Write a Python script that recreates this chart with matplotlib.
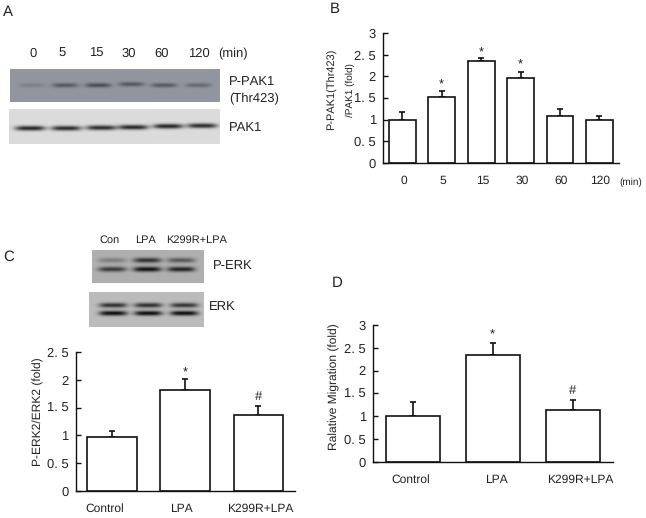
import numpy as np
import matplotlib
matplotlib.use("Agg")
import matplotlib.pyplot as plt

W, H = 646, 518
plt.rcParams['font.family'] = ['Liberation Sans', 'DejaVu Sans']
plt.rcParams['text.hinting'] = 'no_hinting'
plt.rcParams['text.hinting_factor'] = 1
TXT = '#222222'

# --- Panel B
b_labels = ['0', '5', '15', '30', '60', '120']
b_values = [1.0, 1.52, 2.35, 1.97, 1.09, 1.0]
b_errors = [0.18, 0.135, 0.08, 0.14, 0.16, 0.08]
b_marks = [None, '*', '*', '*', None, None]
b_mark_y = [None, 1.80, 2.55, 2.27, None, None]
b_yticks = [0, 0.5, 1, 1.5, 2, 2.5, 3]
b_yticklabels = ['0', '0. 5', '1', '1. 5', '2', '2. 5', '3']

# --- Panel C
c_labels = ['Control', 'LPA', 'K299R+LPA']
c_values = [0.965, 1.82, 1.37]
c_errors = [0.12, 0.20, 0.16]
c_marks = [None, '*', '#']
c_mark_y = [None, 2.12, 1.70]
c_yticks = [0, 0.5, 1, 1.5, 2, 2.5]
c_yticklabels = ['0', '0. 5', '1', '1. 5', '2', '2. 5']

# --- Panel D
d_labels = ['Control', 'LPA', 'K299R+LPA']
d_values = [1.0, 2.34, 1.134]
d_errors = [0.32, 0.27, 0.22]
d_marks = [None, '*', '#']
d_mark_y = [None, 2.78, 1.56]
d_yticks = b_yticks
d_yticklabels = b_yticklabels

# --- Blots: lane centre x, band centre y, strength
a1_x = [32, 65, 98, 131, 164, 198]
a1_y = [85, 85, 85, 84, 85, 85]
a1_s = [0.22, 0.62, 0.72, 0.62, 0.6, 0.45]
a2_x = [30, 66, 101, 133, 168, 202]
a2_y = [128, 128, 127.5, 127, 126, 125.5]
a2_s = [0.95, 0.92, 0.92, 0.95, 0.95, 0.92]
c1_x = [112, 147, 181]
c1u_y = [260, 260, 260]
c1u_s = [0.32, 0.8, 0.55]
c1l_y = [269, 269, 269]
c1l_s = [0.75, 1.0, 0.9]
c2_x = [113, 148, 184]
c2u_y = [305, 305, 305]
c2u_s = [0.8, 0.8, 0.78]
c2l_y = [313, 313, 313]
c2l_s = [1.0, 1.0, 1.0]

fig = plt.figure(figsize=(W / 100, H / 100), dpi=100, facecolor='white')


def px_axes(l, t, r, b):
    return fig.add_axes([l / W, 1 - b / H, (r - l) / W, (b - t) / H])


def ftext(x, y, s, size=9, ha='left', **kw):
    fig.text(x / W, 1 - y / H, s, fontsize=size, ha=ha, va='center', color=TXT, **kw)


def bar_panel(box, labels, values, errors, marks, mark_y, yticks, yticklabels, ymax, label_shift):
    ax = px_axes(*box)
    x = np.arange(len(values))
    ax.bar(x, values, width=0.68, facecolor='white', edgecolor='#111111', linewidth=1.2, zorder=2)
    ax.errorbar(x, values, yerr=[np.zeros(len(values)), errors], fmt='none', ecolor='#111111',
                elinewidth=1.2, capsize=2.2, capthick=1.2, zorder=1)
    for xi, m, my in zip(x, marks, mark_y):
        if m:
            ax.text(xi, my, m, ha='center', va='center', fontsize=9, color=TXT)
    ax.set_xlim(-0.5, len(values) - 0.5)
    ax.set_ylim(0, ymax)
    for s in ('top', 'right'):
        ax.spines[s].set_visible(False)
    for s in ('left', 'bottom'):
        ax.spines[s].set_linewidth(1.0)
        ax.spines[s].set_color('#111111')
    ax.patch.set_alpha(0)
    ax.set_yticks(yticks)
    ax.set_yticklabels(yticklabels)
    ax.tick_params(axis='y', direction='in', length=3.5, width=1.0, pad=5, labelsize=9, labelcolor=TXT, color='#111111')
    ax.set_xticks(x + np.array(label_shift))
    ax.set_xticklabels(labels)
    ax.tick_params(axis='x', length=0, pad=9, labelsize=8.5, labelcolor=TXT)
    return ax


def blot(box, bg, dark, bands, hw, hy):
    l, t, r, b = box
    ax = px_axes(l, t, r, b)
    xs = np.arange(l, r, 0.5)
    ys = np.arange(t, b, 0.5)
    X, Y = np.meshgrid(xs, ys)
    cover = np.zeros_like(X)
    for xc, yc, st in bands:
        cover += st * np.exp(-((X - xc) / hw) ** 4) * np.exp(-((Y - yc) / hy) ** 2)
    cover = np.clip(cover, 0, 1)[..., None]
    img = np.array(matplotlib.colors.to_rgb(bg)) * (1 - cover) + np.array(matplotlib.colors.to_rgb(dark)) * cover
    ax.imshow(img, extent=(l, r, b, t), aspect='auto', interpolation='bilinear')
    ax.axis('off')
    return ax


# Panel letters
ftext(3, 12, 'A', size=10.5)
ftext(330, 9, 'B', size=10.5)
ftext(3, 257, 'C', size=10.5)
ftext(332, 283, 'D', size=10.5)

# Panel A
for xp, s in zip([33, 62, 96, 129, 162, 199], b_labels):
    ftext(xp, 54, s, ha='center')
ftext(233, 54, '(min)', ha='center')
blot((10, 69, 220, 102), '#92979f', '#28333c', list(zip(a1_x, a1_y, a1_s)), 13, 2.2)
blot((9, 109, 220, 144), '#dcdcdc', '#1c1c1c', list(zip(a2_x, a2_y, a2_s)), 15, 2.4)
ftext(229, 82, 'P-PAK1', size=9.2)
ftext(229, 99, '(Thr423)', size=9.2)
ftext(229, 128, 'PAK1', size=9.2)

# Panel B
bar_panel((382.7, 33.3, 619, 162.7), b_labels, b_values, b_errors, b_marks, b_mark_y,
          b_yticks, b_yticklabels, 3, [0.03] * 6)
ftext(631, 182, '(min)', size=7.5, ha='center')
fig.text(332 / W, 1 - 89 / H, 'P-PAK1(Thr423)', rotation=90, fontsize=7.6, ha='center', va='center', color=TXT)
fig.text(350 / W, 1 - 90 / H, '/PAK1 (fold)', rotation=90, fontsize=7.4, ha='center', va='center', color=TXT)

# Panel C
ftext(110, 240, 'Con', size=7.9, ha='center')
ftext(146, 240, 'LPA', size=7.9, ha='center')
ftext(197, 240, 'K299R+LPA', size=7.9, ha='center')
blot((92, 250, 204, 283), '#b0b0b0', '#111111',
     list(zip(c1_x, c1u_y, c1u_s)) + list(zip(c1_x, c1l_y, c1l_s)), 14, 2.5)
blot((89, 292, 204, 327), '#bcbcbc', '#0c0c0c',
     list(zip(c2_x, c2u_y, c2u_s)) + list(zip(c2_x, c2l_y, c2l_s)), 14, 2.4)
ftext(213, 266, 'P-ERK', size=9.4)
ftext(209, 307, 'ERK', size=9.4)
bar_panel((75.5, 352, 295, 491), c_labels, c_values, c_errors, c_marks, c_mark_y,
          c_yticks, c_yticklabels, 2.5, [-0.1, -0.06, 0.02])
fig.text(38 / W, 1 - 412 / H, 'P-ERK2/ERK2 (fold)', rotation=90, fontsize=8.4, ha='center', va='center', color=TXT)

# Panel D
bar_panel((372.7, 325, 612.7, 461.7), d_labels, d_values, d_errors, d_marks, d_mark_y,
          d_yticks, d_yticklabels, 3, [-0.02, 0.04, 0.09])
fig.text(334 / W, 1 - 387 / H, 'Ralative Migration (fold)', rotation=90, fontsize=8.8, ha='center', va='center', color=TXT)

fig.savefig('out.png', dpi=100, facecolor='white')
